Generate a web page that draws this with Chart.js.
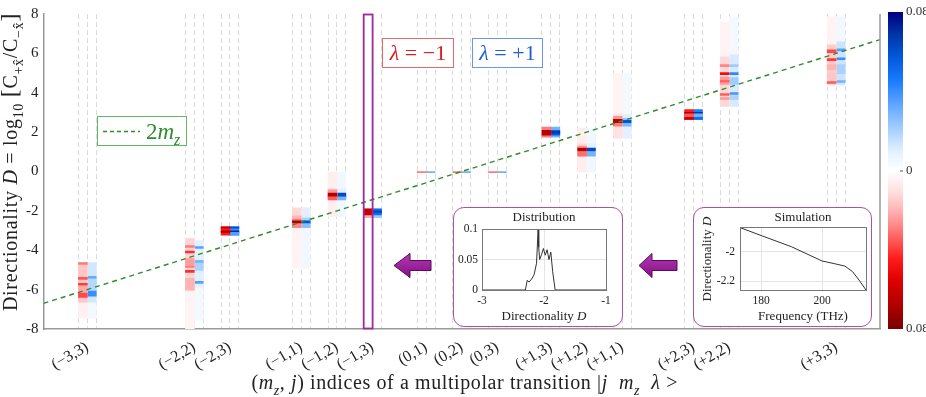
<!DOCTYPE html>
<html><head><meta charset="utf-8">
<script src="https://cdn.jsdelivr.net/npm/chart.js@4.4.1/dist/chart.umd.min.js"></script>
<style>
html,body{margin:0;padding:0;background:#fff;}
#wrap{position:relative;width:926px;height:397px;overflow:hidden;background:#fff;}
canvas{position:absolute;}
.frame{position:absolute;box-sizing:border-box;border:1.5px solid #a853a8;border-radius:11px;background:#fff;}
</style></head><body>
<div id="wrap">
<canvas id="main" width="926" height="397" style="left:0;top:0"></canvas>
<canvas id="cbar" width="46" height="397" style="left:880px;top:0"></canvas>
<div class="frame" style="left:453px;top:207px;width:170px;height:120px"></div>
<canvas id="dist" width="170" height="120" style="left:453px;top:207px"></canvas>
<div class="frame" style="left:693px;top:207px;width:179px;height:120px"></div>
<canvas id="sim" width="179" height="120" style="left:693px;top:207px"></canvas>
</div>
<script>
// ---------------- DATA ----------------
const transitionLabels = ['(−3,3)','(−2,2)','(−2,3)','(−1,1)','(−1,2)','(−1,3)','(0,1)','(0,2)','(0,3)','(+1,3)','(+1,2)','(+1,1)','(+2,3)','(+2,2)','(+3,3)'];
const transitionPos = [-10.5,-7.5,-6.5,-4.5,-3.5,-2.5,-1,0,1,2.5,3.5,4.5,6.5,7.5,10.5];
const highlightIndex = 5;
const xRange = [-11.73, 11.73];
const yRange = [-8, 8];
const yStep = 2;

// heat segments per transition: [D low, D high, density]   (λ = −1, red)
const heatMinus = [
  [[-7.45,-4.62,0.005],[-6.64,-4.62,0.016],[-4.72,-4.62,0.03],[-5.48,-5.38,0.036],[-5.78,-5.68,0.04],[-6.13,-5.83,0.022],[-6.39,-6.18,0.038]],
  [[-8,-3.41,0.004],[-6.03,-3.41,0.013],[-3.86,-3.76,0.03],[-4.14,-4.04,0.042],[-4.77,-4.42,0.024],[-4.87,-4.8,0.03],[-5.12,-5.02,0.042],[-6.03,-5.43,0.02]],
  [[-3.24,-2.81,0.045],[-2.88,-2.81,0.062],[-3.09,-3.01,0.07]],
  [[-4.92,-1.84,0.004],[-2.85,-1.84,0.012],[-2.35,-2.25,0.02],[-2.5,-2.4,0.03],[-2.65,-2.5,0.068],[-2.85,-2.65,0.028]],
  [[-2.3,-0.03,0.006],[-1.44,-0.88,0.012],[-1.09,-0.93,0.025],[-1.29,-1.09,0.066],[-1.44,-1.29,0.035]],
  [[-2.35,-1.89,0.022],[-2.2,-1.89,0.062]],
  [[-0.06,-0.01,0.03]],
  [[-0.06,-0.01,0.03]],
  [[-0.06,-0.01,0.03]],
  [[1.74,2.25,0.03],[1.84,2.09,0.065]],
  [[-0.03,2.2,0.006],[0.78,1.4,0.012],[1.19,1.29,0.025],[1.03,1.19,0.066],[0.78,0.98,0.032]],
  [[1.69,4.97,0.004],[1.69,2.9,0.01],[2.65,2.8,0.025],[2.45,2.65,0.066],[2.3,2.45,0.03]],
  [[2.65,3.15,0.045],[2.93,3.0,0.07],[2.75,2.93,0.035],[2.65,2.75,0.06]],
  [[3.3,7.6,0.004],[3.3,5.83,0.012],[5.33,5.43,0.028],[4.92,5.02,0.05],[4.42,4.8,0.025],[4.55,4.62,0.035],[3.86,3.96,0.035],[3.66,3.76,0.025]],
  [[4.31,7.85,0.004],[4.42,6.44,0.015],[6.03,6.18,0.038],[5.63,5.73,0.04],[5.17,5.43,0.02],[4.72,4.97,0.016],[4.47,4.57,0.035]]
];
// (λ = +1, blue)
const heatPlus = [
  [[-7.45,-4.62,0.004],[-6.64,-4.62,0.013],[-5.43,-5.33,0.032],[-6.08,-5.48,0.018],[-6.33,-6.08,0.04]],
  [[-7.55,-3.51,0.004],[-5.88,-3.51,0.01],[-3.91,-3.81,0.035],[-5.02,-4.52,0.02],[-4.62,-4.52,0.03],[-5.68,-5.58,0.035]],
  [[-3.24,-2.81,0.04],[-2.88,-2.81,0.06],[-3.09,-3.01,0.07],[-3.24,-3.09,0.035]],
  [[-4.92,-1.84,0.005],[-2.85,-1.84,0.01],[-2.5,-2.35,0.02],[-2.65,-2.5,0.058],[-2.85,-2.65,0.026]],
  [[-2.3,-0.03,0.005],[-1.44,-0.88,0.01],[-1.29,-1.09,0.062],[-1.44,-1.29,0.03]],
  [[-2.35,-1.89,0.022],[-2.2,-1.89,0.05],[-2.08,-2.0,0.065]],
  [[-0.06,-0.01,0.03]],
  [[-0.06,-0.01,0.03]],
  [[-0.06,-0.01,0.03]],
  [[1.74,2.25,0.03],[1.84,2.09,0.055],[1.94,2.04,0.068]],
  [[-0.03,2.2,0.005],[0.78,1.4,0.01],[1.03,1.19,0.062],[0.78,0.98,0.03]],
  [[1.69,4.97,0.004],[1.69,2.9,0.01],[2.6,2.7,0.025],[2.45,2.6,0.058],[2.3,2.45,0.028]],
  [[2.65,3.15,0.045],[2.93,3.0,0.068],[2.75,2.93,0.03],[2.65,2.75,0.05]],
  [[3.3,7.85,0.004],[3.3,5.93,0.012],[5.33,5.43,0.022],[4.92,5.02,0.042],[4.42,4.77,0.022],[3.91,4.01,0.038],[3.66,3.86,0.02]],
  [[4.31,7.85,0.005],[4.42,6.59,0.014],[6.13,6.23,0.035],[5.68,5.78,0.04],[4.97,5.43,0.02],[4.52,4.62,0.03]]
];
const colHalf = 0.125;

// 2 m_z reference line (read at plot edges)
const lineX = [-11.73, 11.73];
const lineY = [-6.7, 6.7];

// colour scale
const cbarMax = 0.08;
const cbarTicks = [-0.08, 0, 0.08];
const redStops  = [[0,'#ffffff'],[0.01,'#ffe2e2'],[0.02,'#ffb4b4'],[0.03,'#ff7a7a'],[0.045,'#ff1a1a'],[0.055,'#e00000'],[0.068,'#b00000'],[0.08,'#780000']];
const blueStops = [[0,'#ffffff'],[0.01,'#e2f0ff'],[0.02,'#aad2ff'],[0.03,'#72b2ff'],[0.045,'#1a7cff'],[0.058,'#0056d8'],[0.068,'#0038a8'],[0.08,'#000080']];

// inset: distribution
const distD = [-3,-2.30,-2.27,-2.24,-2.2,-2.16,-2.12,-2.095,-2.085,-2.07,-2.04,-2.01,-1.98,-1.95,-1.92,-1.89,-1.86,-1.82,-1];
const distP = [0,0,0.016,0.013,0.018,0.025,0.044,0.1,0.07,0.05,0.058,0.068,0.057,0.066,0.05,0.062,0.03,0,0];
// inset: simulation
const simFreq = [173.1,180,190,200,204,207.5,210,212.4,214.4];
const simD = [-1.834,-1.888,-1.965,-2.062,-2.08,-2.097,-2.135,-2.2,-2.26];
const simXTicks = [180, 200];
const simYTicks = [-2.2, -2];

// ---------------- HELPERS ----------------
const SERIF = "'Liberation Serif','DejaVu Serif',serif";
Chart.defaults.font.family = SERIF;
Chart.defaults.color = '#222';

function hexToRgb(h){return [1,3,5].map(i=>parseInt(h.slice(i,i+2),16));}
function cmap(stops, v){
  v = Math.max(0, Math.min(stops[stops.length-1][0], v));
  for (let i=1;i<stops.length;i++){
    if (v <= stops[i][0]){
      const [v0,c0] = stops[i-1], [v1,c1] = stops[i];
      const t = (v-v0)/(v1-v0), a = hexToRgb(c0), b = hexToRgb(c1);
      return 'rgb(' + a.map((x,k)=>Math.round(x+(b[k]-x)*t)).join(',') + ')';
    }
  }
  return stops[stops.length-1][1];
}
function heatData(segsArr, side){
  const out = [];
  segsArr.forEach((segs,i)=>segs.forEach(s=>out.push({x: transitionPos[i] + side*colHalf, y:[s[0],s[1]], v:s[2]})));
  return out;
}
const tickVals = transitionPos.flatMap(p => [p-2*colHalf, p, p+2*colHalf]);
const numLabel = v => String(+v.toFixed(2));

function drawRich(ctx, parts, x, y, o){
  ctx.save();
  ctx.translate(x, y);
  if (o.rotate) ctx.rotate(o.rotate);
  if (o.ls && 'letterSpacing' in ctx) ctx.letterSpacing = o.ls + 'px';
  const fontOf = p => (p.i?'italic ':'') + ((p.s||p.p) ? Math.round(o.size*0.68) : Math.round(o.size*(p.k||1))) + 'px ' + SERIF;
  let w = 0;
  parts.forEach(p => { ctx.font = fontOf(p); p._w = ctx.measureText(p.t).width; w += p._w; });
  let cx = o.align === 'left' ? 0 : (o.align === 'right' ? -w : -w/2);
  ctx.textAlign = 'left'; ctx.textBaseline = 'alphabetic';
  parts.forEach(p => {
    ctx.font = fontOf(p);
    ctx.fillStyle = p.c || o.color || '#222';
    const dy = p.s ? o.size*0.28 : (p.p ? -o.size*0.38 : 0);
    ctx.fillText(p.t, cx, dy);
    cx += p._w;
  });
  ctx.restore();
}
function drawArrow(ctx, tip, cy, head, len, hh, sh){
  ctx.save();
  const g = ctx.createLinearGradient(0, cy-hh, 0, cy+hh);
  g.addColorStop(0,'#b23ab2'); g.addColorStop(1,'#860f86');
  ctx.fillStyle = g; ctx.strokeStyle = '#5a0a5a'; ctx.lineWidth = 1;
  ctx.beginPath();
  ctx.moveTo(tip, cy); ctx.lineTo(tip+head, cy-hh); ctx.lineTo(tip+head, cy-sh);
  ctx.lineTo(tip+len, cy-sh); ctx.lineTo(tip+len, cy+sh); ctx.lineTo(tip+head, cy+sh);
  ctx.lineTo(tip+head, cy+hh); ctx.closePath();
  ctx.fill(); ctx.stroke();
  ctx.restore();
}

// ---------------- MAIN CHART ----------------
const decoPlugin = {
  id:'deco',
  afterDatasetsDraw(chart){
    const {ctx, chartArea:ca, scales:{x,y}} = chart;
    ctx.save();
    ctx.strokeStyle = '#999'; ctx.lineWidth = 1.5;
    ctx.beginPath(); ctx.moveTo(ca.right, ca.top); ctx.lineTo(ca.right, ca.bottom); ctx.stroke();
    const hx1 = x.getPixelForValue(transitionPos[highlightIndex] - 2*colHalf);
    const hx2 = x.getPixelForValue(transitionPos[highlightIndex]);
    const hy1 = y.getPixelForValue(yRange[1]), hy2 = y.getPixelForValue(yRange[0]);
    ctx.strokeStyle = '#9c2a9c'; ctx.lineWidth = 1.8;
    ctx.strokeRect(hx1, hy1+0.5, hx2-hx1, hy2-hy1-1);
    ctx.restore();
  },
  afterDraw(chart){
    const {ctx, chartArea:ca} = chart;
    ctx.save();
    // legend 2m_z
    ctx.fillStyle = '#fff'; ctx.fillRect(97,116,90,30);
    ctx.strokeStyle = '#62b862'; ctx.lineWidth = 1; ctx.strokeRect(97.5,116.5,89,29);
    ctx.strokeStyle = '#2e8b2e'; ctx.lineWidth = 1.5; ctx.setLineDash([4,3]);
    ctx.beginPath(); ctx.moveTo(103,131.5); ctx.lineTo(140,131.5); ctx.stroke(); ctx.setLineDash([]);
    drawRich(ctx, [{t:'2'},{t:'m',i:1},{t:'z',i:1,s:1}], 146, 139, {size:23, align:'left', color:'#2e8b2e'});
    // lambda boxes
    ctx.fillStyle = '#fff'; ctx.fillRect(382,38,72,30); ctx.fillRect(472,38,71,30);
    ctx.lineWidth = 1;
    ctx.strokeStyle = '#e36a6a'; ctx.strokeRect(382.5,38.5,71,29);
    ctx.strokeStyle = '#6a98e6'; ctx.strokeRect(472.5,38.5,70,29);
    drawRich(ctx, [{t:'λ',i:1},{t:' = −1'}], 418, 60, {size:22, color:'#e01b1b'});
    drawRich(ctx, [{t:'λ',i:1},{t:' = +1'}], 507.5, 60, {size:22, color:'#1d5fd8'});
    // arrows
    drawArrow(ctx, 394, 265.5, 16, 37, 12, 5);
    drawArrow(ctx, 639, 265.5, 13, 38, 12, 5);
    // axis titles
    drawRich(ctx, [{t:'('},{t:'m',i:1},{t:'z',i:1,s:1},{t:', '},{t:'j',i:1},{t:') indices of a multipolar transition |'},{t:'j',i:1},{t:'  '},{t:'m',i:1},{t:'z',i:1,s:1},{t:'  '},{t:'λ',i:1},{t:' >'}],
      (ca.left+ca.right)/2 + 3, 389, {size:20, ls:0.6, color:'#222'});
    drawRich(ctx, [{t:'Directionality '},{t:'D',i:1},{t:' = log'},{t:'10',s:1},{t:' '},{t:'[',k:1.2},{t:'C'},{t:'+x̂',s:1},{t:'/C'},{t:'−x̂',s:1},{t:']',k:1.2}],
      17, 162, {size:20, ls:0.7, rotate:-Math.PI/2, color:'#222'});
    ctx.restore();
  }
};

new Chart(document.getElementById('main'), {
  type:'bar',
  data:{datasets:[
    {type:'line', label:'2m_z', data: lineX.map((x,i)=>({x, y:lineY[i]})), borderColor:'#2e8b2e', borderWidth:1.4, borderDash:[5,4], pointRadius:0, order:0},
    {label:'λ = −1', data: heatData(heatMinus,-1), backgroundColor: c => c.raw ? cmap(redStops, c.raw.v) : '#f00', borderWidth:0, grouped:false, barPercentage:1, categoryPercentage:1, order:1},
    {label:'λ = +1', data: heatData(heatPlus, 1), backgroundColor: c => c.raw ? cmap(blueStops, c.raw.v) : '#00f', borderWidth:0, grouped:false, barPercentage:1, categoryPercentage:1, order:1}
  ]},
  options:{
    responsive:false, animation:false,
    layout:{padding:{left:0,right:46,top:12,bottom:0}},
    plugins:{legend:{display:false}, tooltip:{enabled:false}},
    scales:{
      x:{type:'linear', min:xRange[0], max:xRange[1], offset:false,
        afterBuildTicks: s => { s.ticks = tickVals.map(v=>({value:v})); },
        afterFit: s => { s.height = 68; },
        ticks:{autoSkip:false, minRotation:30, maxRotation:30, padding:9, font:{size:16}, color:'#222',
          callback:(v,i)=> i%3===1 ? transitionLabels[(i-1)/3] : ''},
        grid:{offset:false, color:'#dadada', lineWidth:1, drawTicks:false},
        border:{display:true, color:'#999', width:1.5, dash:[5,3]}
      },
      y:{min:yRange[0], max:yRange[1],
        ticks:{stepSize:yStep, padding:5, font:{size:15}, color:'#222'},
        grid:{display:false, drawTicks:false},
        border:{color:'#999', width:1.5},
        afterFit: s => { s.width = 43.5; }
      }
    }
  },
  plugins:[decoPlugin]
});

// ---------------- COLORBAR ----------------
new Chart(document.getElementById('cbar'), {
  type:'bar',
  data:{labels:[''], datasets:[{data:[[-cbarMax, cbarMax]], borderWidth:0, barPercentage:1, categoryPercentage:1,
    backgroundColor: c => {
      const ch = c.chart; if (!ch.chartArea) return '#fff';
      const ys = ch.scales.y;
      const g = ch.ctx.createLinearGradient(0, ys.getPixelForValue(cbarMax), 0, ys.getPixelForValue(-cbarMax));
      blueStops.forEach(([v,col]) => g.addColorStop((cbarMax - v)/(2*cbarMax), col));
      redStops.forEach(([v,col]) => g.addColorStop((cbarMax + v)/(2*cbarMax), col));
      return g;
    }}]},
  options:{responsive:false, animation:false,
    layout:{padding:{left:8,top:12,bottom:68,right:0}},
    plugins:{legend:{display:false}, tooltip:{enabled:false}},
    scales:{
      x:{display:false},
      y:{position:'right', min:-cbarMax, max:cbarMax,
        afterBuildTicks: s => { s.ticks = cbarTicks.map(v=>({value:v})); },
        afterFit: s => { s.width = 23; },
        ticks:{padding:3, font:{size:13}, color:'#333', callback: v => v===0 ? '0' : Math.abs(v).toFixed(2)},
        grid:{display:false, drawTicks:false}, border:{display:false}}
    }
  },
  plugins:[{id:'cbTicks', afterDraw(chart){
    const {ctx, chartArea:ca, scales:{y}} = chart;
    const py = y.getPixelForValue(0);
    ctx.save(); ctx.strokeStyle = '#555'; ctx.lineWidth = 1;
    ctx.beginPath(); ctx.moveTo(ca.right-3, py+0.5); ctx.lineTo(ca.right, py+0.5); ctx.stroke(); ctx.restore();
  }}]
});

// ---------------- INSETS ----------------
function insetPlugin(texts){
  return {
    id:'insetDeco',
    afterDraw(chart){
      const {ctx, chartArea:ca} = chart;
      ctx.save();
      ctx.strokeStyle = '#777'; ctx.lineWidth = 1;
      ctx.strokeRect(Math.round(ca.left)+0.5, Math.round(ca.top)+0.5, Math.round(ca.right-ca.left), Math.round(ca.bottom-ca.top));
      const cxm = (ca.left+ca.right)/2;
      texts.forEach(t => drawRich(ctx, t.parts, t.x === 'c' ? cxm : t.x, t.y, {size:t.size, rotate:t.rotate, color:'#222'}));
      ctx.restore();
    }
  };
}
const insetTick = {size:11.5};
new Chart(document.getElementById('dist'), {
  type:'line',
  data:{datasets:[{data: distD.map((x,i)=>({x, y:distP[i]})), borderColor:'#333', borderWidth:1, pointRadius:0, tension:0}]},
  options:{responsive:false, animation:false,
    layout:{padding:{left:0,right:17,top:22,bottom:0}},
    plugins:{legend:{display:false}, tooltip:{enabled:false}},
    scales:{
      x:{type:'linear', min:-3, max:-1, ticks:{stepSize:1, font:insetTick, color:'#222', padding:4, maxRotation:0, callback:numLabel},
        grid:{color:'#e4e4e4', drawTicks:false}, border:{display:false}, afterFit:s=>{s.height=37;}},
      y:{min:0, max:0.1, ticks:{stepSize:0.05, font:insetTick, color:'#222', padding:4, callback:numLabel},
        grid:{color:'#e4e4e4', drawTicks:false}, border:{display:false}, afterFit:s=>{s.width=29;}}
    }
  },
  plugins:[insetPlugin([
    {parts:[{t:'Distribution'}], x:'c', y:14, size:13},
    {parts:[{t:'Directionality '},{t:'D',i:1}], x:'c', y:113, size:13}
  ])]
});
new Chart(document.getElementById('sim'), {
  type:'line',
  data:{datasets:[{data: simFreq.map((x,i)=>({x, y:simD[i]})), borderColor:'#333', borderWidth:1, pointRadius:0, tension:0}]},
  options:{responsive:false, animation:false,
    layout:{padding:{left:0,right:6,top:20,bottom:0}},
    plugins:{legend:{display:false}, tooltip:{enabled:false}},
    scales:{
      x:{type:'linear', min:173.1, max:214.4, afterBuildTicks:s=>{s.ticks=simXTicks.map(v=>({value:v}));},
        ticks:{font:insetTick, color:'#222', padding:4, maxRotation:0, callback:numLabel},
        grid:{color:'#e4e4e4', drawTicks:false}, border:{display:false}, afterFit:s=>{s.height=37;}},
      y:{min:-2.26, max:-1.83, afterBuildTicks:s=>{s.ticks=simYTicks.map(v=>({value:v}));},
        ticks:{font:insetTick, color:'#222', padding:5, callback:numLabel},
        grid:{color:'#e4e4e4', drawTicks:false}, border:{display:false}, afterFit:s=>{s.width=47;}}
    }
  },
  plugins:[insetPlugin([
    {parts:[{t:'Simulation'}], x:'c', y:14, size:13},
    {parts:[{t:'Frequency (THz)'}], x:'c', y:113, size:13},
    {parts:[{t:'Directionality '},{t:'D',i:1}], x:18, y:52, size:12.5, rotate:-Math.PI/2}
  ])]
});
</script>
</body></html>
